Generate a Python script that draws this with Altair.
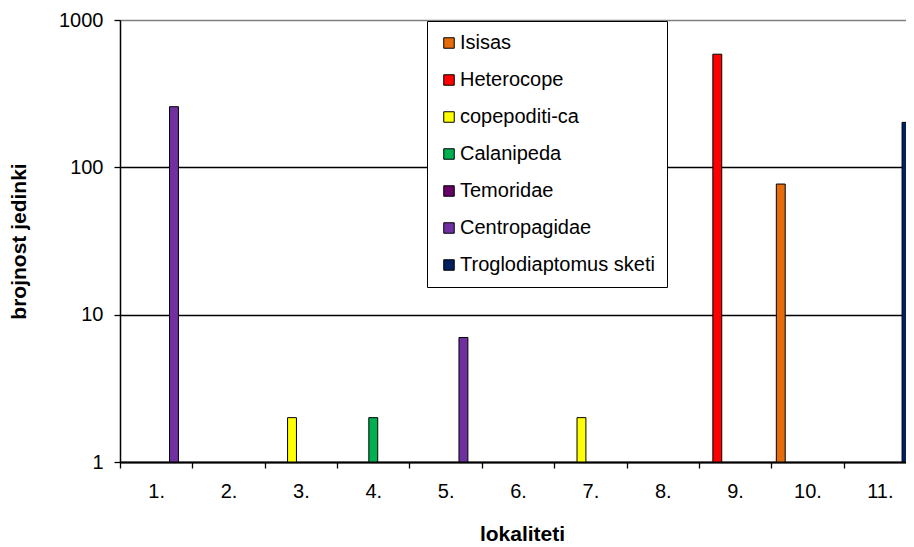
import altair as alt
import pandas as pd

categories = ["1.", "2.", "3.", "4.", "5.", "6.", "7.", "8.", "9.", "10.", "11."]
series = ["Isisas", "Heterocope", "copepoditi-ca", "Calanipeda", "Temoridae",
          "Centropagidae", "Troglodiaptomus sketi"]
colors = ["#E46C0A", "#FF0000", "#FFFF00", "#00B050", "#660066", "#7030A0", "#002060"]

bar_lokalitet = ["1.", "3.", "4.", "5.", "7.", "9.", "10.", "11."]
bar_series = ["Centropagidae", "copepoditi-ca", "Calanipeda", "Centropagidae",
              "copepoditi-ca", "Heterocope", "Isisas", "Troglodiaptomus sketi"]
bar_values = [258, 2, 2, 7, 2, 586, 77, 202]

df = pd.DataFrame({"lok": bar_lokalitet, "series": bar_series, "n": bar_values})

FONT = "Liberation Sans"

chart = alt.Chart(df).mark_bar(stroke="black", strokeWidth=1).encode(
    x=alt.X("lok:N", sort=categories,
            scale=alt.Scale(domain=categories, paddingInner=0, paddingOuter=0,
                            range=[0, 796]),
            axis=alt.Axis(title="lokaliteti", labelAngle=0, tickBand="extent",
                          tickSize=6, tickColor="black", tickWidth=1.3,
                          domainColor="black", domainWidth=2,
                          labelFont=FONT, labelFontSize=20, labelColor="black",
                          labelPadding=13,
                          titleFont=FONT, titleFontSize=21, titleFontWeight="bold",
                          titleColor="black", titleX=402, titleY=72,
                          titleBaseline="middle", titleAlign="center")),
    xOffset=alt.XOffset("series:N", sort=series,
                        scale=alt.Scale(domain=series, paddingInner=0, paddingOuter=0.567)),
    y=alt.Y("n:Q",
            scale=alt.Scale(type="log", domain=[1, 1000], nice=False),
            axis=alt.Axis(title="brojnost jedinki", values=[1, 10, 100, 1000], format="d",
                          grid=True, gridColor={"expr": "datum.value >= 1000 ? '#808080' : 'black'"},
                          gridWidth=1.3, tickSize=6, tickColor="black", tickWidth=1.3,
                          domainColor="black", domainWidth=1.5,
                          labelFont=FONT, labelFontSize=20, labelColor="black",
                          labelPadding=11,
                          titleFont=FONT, titleFontSize=21, titleFontWeight="bold",
                          titleColor="black", titleX=-101, titleY=221,
                          titleBaseline="middle", titleAlign="center")),
    y2=alt.datum(1),
    color=alt.Color("series:N",
                    scale=alt.Scale(domain=series, range=colors),
                    legend=alt.Legend(title=None, orient="none", legendX=307, legendY=1,
                                      fillColor="white", strokeColor="black",
                                      padding=12, rowPadding=17,
                                      symbolType="square", symbolSize=110,
                                      symbolStrokeColor="black", symbolStrokeWidth=1,
                                      symbolOpacity=1, symbolOffset=0, labelOffset=1,
                                      labelFont=FONT, labelFontSize=20, labelColor="black",
                                      labelLimit=400)),
).properties(
    width=786, height=442,
    autosize=alt.AutoSizeParams(type="none"),
    padding={"left": 112, "top": 12, "right": 0, "bottom": 85},
).configure_view(strokeWidth=0).configure(background="white")

chart.save("out.html", embed_options={"renderer": "svg", "actions": False})
